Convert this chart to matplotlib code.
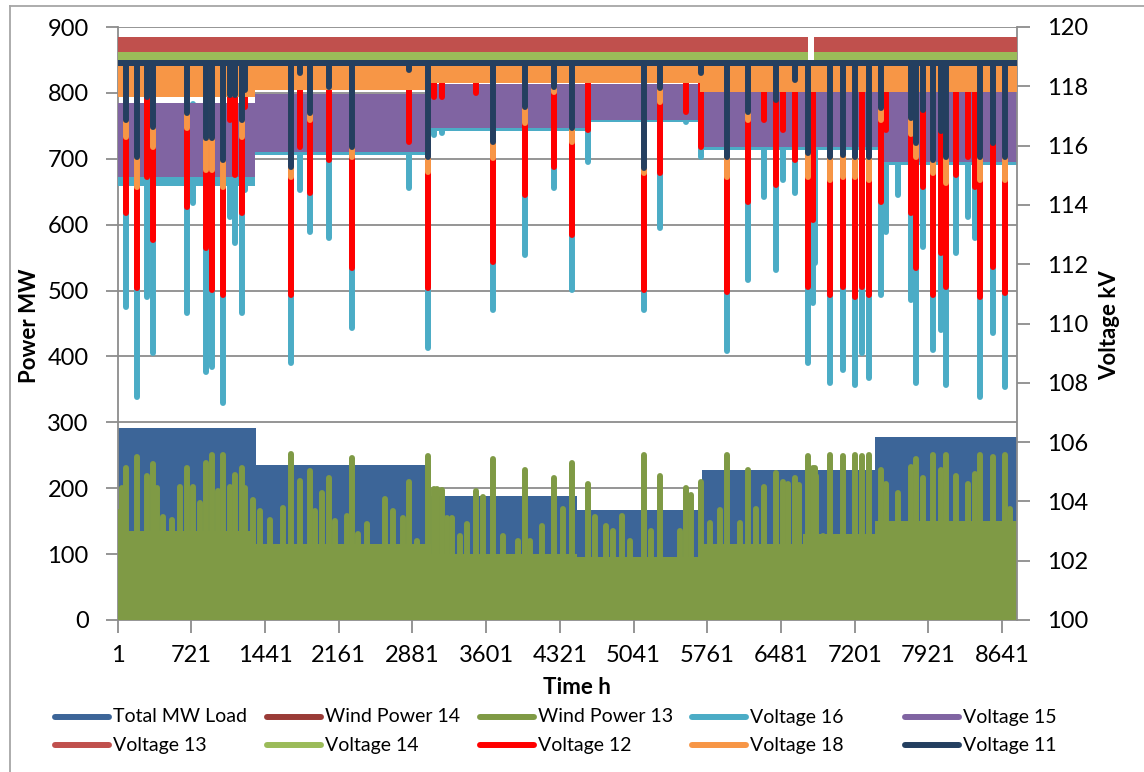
import numpy as np
import matplotlib.pyplot as plt
from matplotlib.lines import Line2D

plt.rcParams['font.family'] = ['Lato', 'DejaVu Sans']

nan = np.nan

# ---- primary axis (MW): dense hourly series shown as step envelopes ----
load_edges = [1, 1349, 3060, 4490, 5710, 7400, 8784]
load_top = [292, 236, 188, 167, 228, 277]
load_bottom = [100, 90, 80, 60, 90, 110]

wind_edges = [1, 1349, 3060, 4490, 5710, 6700, 7400, 8784]
wind13_base = [135, 115, 100, 95, 115, 130, 150]
wind14_base = [110, 95, 80, 80, 95, 110, 125]

# minor wind peaks (hour, MW)
minor_hour = [1, 40, 382, 447, 528, 609, 805, 983, 1325, 1390,
              1488, 1618, 1928, 1993, 2123, 2237, 2350, 2432, 2611, 2692,
              2790, 2921, 3116, 3214, 3263, 3344, 3409, 3571, 3767, 3913,
              4027, 4142, 4353, 4662, 4776, 4841, 4932, 5004, 5216, 5493,
              5606, 5785, 5883, 6078, 6234, 6501, 6550, 6660, 6827, 6892,
              8715, 8780]
minor_wind = [164, 200, 200, 156, 152, 202, 178, 196, 182, 165,
              152, 170, 165, 193, 150, 158, 130, 145, 184, 165,
              155, 120, 199, 155, 155, 127, 145, 186, 127, 120,
              120, 143, 169, 156, 143, 135, 158, 120, 135, 135,
              190, 147, 167, 147, 169, 206, 206, 205, 219, 127,
              168, 100]

# ---- high-wind events: wind peak (MW) and voltage minima (kV) ----
event_hour = [82, 187, 284, 343, 681, 733, 863, 919, 1026, 1098,
              1147, 1212, 1240, 1690, 1781, 1879, 2062, 2286, 2846, 3028,
              3090, 3165, 3500, 3669, 3978, 4262, 4440, 4591, 5141, 5304,
              5551, 5704, 5954, 6159, 6312, 6436, 6498, 6615, 6742, 6791,
              6811, 6958, 7085, 7202, 7270, 7339, 7463, 7511, 7622, 7755,
              7804, 7866, 7963, 8048, 8097, 8195, 8305, 8374, 8422, 8549,
              8667]
event_wind = [231, 248, 219, 237, 231, 202, 238, 250, 250, 202,
              220, 231, 200, 252, 211, 226, 216, 246, 210, 249,
              199, 197, 196, 244, 228, 216, 238, 206, 250, 219,
              200, 210, 250, 228, 202, 223, 210, 216, 249, 230,
              230, 250, 249, 251, 249, 251, 228, 206, 193, 232,
              244, 216, 250, 228, 250, 219, 207, 221, 250, 248,
              250]
v11_dip = [116.86, 115.63, 117.65, 116.64, 117.09, nan, 116.25, 116.25, 115.51, 117.71,
           117.71, 116.86, 117.88, 115.29, 118.44, 117.09, 117.99, 115.96, 118.55, 115.63,
           nan, nan, nan, 116.13, 117.31, 117.99, 116.58, nan, 115.23, 117.93,
           nan, 118.44, 115.63, 117.14, nan, 117.54, nan, 118.21, 115.74, nan,
           nan, 115.63, 115.68, 115.63, nan, 115.63, 117.26, nan, nan, 116.92,
           116.08, 117.20, 115.51, 116.50, 115.63, nan, nan, nan, 115.63, 116.08,
           115.63]
v18_dip = [116.30, 114.61, nan, 115.96, 116.58, nan, 115.18, 115.18, 114.61, nan,
           nan, 116.30, nan, 114.95, nan, 116.86, nan, 115.63, nan, 115.12,
           nan, nan, nan, 115.57, 116.75, 117.82, 116.13, nan, 115.07, 117.48,
           nan, nan, 114.95, 116.86, nan, nan, nan, nan, 114.95, nan,
           nan, 114.84, 114.95, 114.95, nan, 114.84, 116.86, nan, nan, 116.40,
           115.60, nan, 115.07, nan, 114.73, nan, nan, nan, 114.84, nan,
           114.84]
v12_dip = [113.72, 111.19, 114.95, 112.82, 113.94, nan, 112.54, 111.13, 110.96, 116.86,
           115.00, 113.72, 117.30, 110.96, 115.96, 114.39, 115.51, 111.86, 116.13, 111.19,
           117.65, 117.65, 117.76, 112.08, 114.33, 115.29, 112.98, 116.53, 111.13, 115.07,
           117.14, 115.96, 111.07, 114.11, 116.86, 114.67, 116.53, 115.51, 111.24, 113.49,
           nan, 110.96, 111.24, 110.90, 111.24, 110.96, 114.11, 116.53, nan, 113.72,
           111.86, 114.61, 110.96, 112.38, 111.24, 115.00, 115.60, 114.60, 110.90, 111.92,
           111.02]
v16_dip = [110.57, 107.53, 110.90, 109.00, 110.34, 114.06, 108.37, 108.54, 107.31, 113.60,
           112.70, 110.34, 114.50, 108.66, 114.50, 113.10, 112.87, 109.84, 114.56, 109.16,
           116.36, 116.41, nan, 110.46, 112.31, 114.56, 111.13, 115.46, 110.46, 113.21,
           116.81, 115.63, 109.06, 111.47, 114.28, 111.80, 114.84, 114.39, 108.66, 110.68,
           112.03, 107.98, 108.43, 107.93, 109.00, 108.15, 110.96, 113.10, 114.33, 110.79,
           107.98, 112.59, 109.11, 109.78, 107.93, 112.37, 113.60, 112.87, 107.53, 109.67,
           107.87]

# ---- secondary axis (kV): envelopes of the dense voltage series ----
v_edges = [1, 1345, 3050, 4600, 5690, 7450, 8784]
v16_low = [114.65, 115.68, 116.50, 116.78, 115.85, 115.35]
v16_high = [117.40, 117.60, 118.00, 118.00, 117.85, 117.85]
v15_low = [114.95, 115.78, 116.60, 116.86, 115.95, 115.45]
v15_high = [117.45, 117.75, 118.07, 118.07, 117.90, 117.90]
v12_low = [118.00, 118.00, 118.10, 118.10, 118.00, 118.00]
v12_high = [118.60, 118.60, 118.60, 118.60, 118.60, 118.60]

v18_edges = [1, 1345, 3050, 5690, 8784]
v18_low = [117.65, 117.88, 118.11, 117.80]
v18_high = [118.68, 118.68, 118.68, 118.68]

top_edges = [1, 6745, 6800, 8784]
v13_low = [119.17, nan, 119.17]
v13_high = [119.67, nan, 119.67]
v14_low = [118.89, nan, 118.89]
v14_high = [119.17, nan, 119.17]
v11_low = [118.70, 118.70, 118.70]
v11_high = [118.88, 118.88, 118.88]

x_ticks = [1, 721, 1441, 2161, 2881, 3601, 4321, 5041, 5761, 6481, 7201, 7921, 8641]

colors = {
    'Total MW Load': '#3C6598', 'Wind Power 14': '#9A3B37', 'Wind Power 13': '#7F9A45',
    'Voltage 16': '#4BACC6', 'Voltage 15': '#8064A2', 'Voltage 13': '#C0504D',
    'Voltage 14': '#9BBB59', 'Voltage 12': '#FF0000', 'Voltage 18': '#F79646',
    'Voltage 11': '#243F60',
}
LW = 4.3
GRID = '#8C8C8C'


def band(axis, edges, low, high, color, z):
    # one flat block per segment, gaps where the value is missing
    for i in range(len(low)):
        if np.isnan(low[i]):
            continue
        axis.fill_between([edges[i], edges[i + 1]], low[i], high[i],
                          color=color, lw=0, zorder=z)


def dips(axis, top, values, color, z):
    h = np.array(event_hour, dtype=float)
    v = np.array(values, dtype=float)
    ok = ~np.isnan(v)
    axis.vlines(h[ok], v[ok], top, colors=color, linewidth=LW, capstyle='round', zorder=z)


fig = plt.figure(figsize=(11.44, 7.72), dpi=100)
ax = fig.add_axes([117.7 / 1144, 1 - 620 / 772, 899 / 1144, 593 / 772])

# primary series
band(ax, load_edges, load_bottom, load_top, colors['Total MW Load'], 2)
band(ax, wind_edges, [0] * len(wind14_base), wind14_base, colors['Wind Power 14'], 3)
band(ax, wind_edges, [0] * len(wind13_base), wind13_base, colors['Wind Power 13'], 4)
ax.vlines(minor_hour, 0, minor_wind, colors=colors['Wind Power 13'], linewidth=LW,
          capstyle='round', zorder=4)
ax.vlines(event_hour, 0, event_wind, colors=colors['Wind Power 13'], linewidth=LW,
          capstyle='round', zorder=4)

ax.set_xlim(1, 8784)
ax.set_ylim(0, 900)
ax.set_yticks(range(0, 901, 100))
ax.set_xticks(x_ticks)
ax.yaxis.grid(True, color=GRID, linewidth=1.3, zorder=0)
ax.set_axisbelow(True)

# secondary series
ax2 = ax.twinx()
band(ax2, v_edges, v16_low, v16_high, colors['Voltage 16'], 1)
dips(ax2, 117.4, v16_dip, colors['Voltage 16'], 1)
band(ax2, v_edges, v15_low, v15_high, colors['Voltage 15'], 2)
band(ax2, top_edges, v13_low, v13_high, colors['Voltage 13'], 3)
band(ax2, top_edges, v14_low, v14_high, colors['Voltage 14'], 4)
band(ax2, v_edges, v12_low, v12_high, colors['Voltage 12'], 5)
dips(ax2, 118.5, v12_dip, colors['Voltage 12'], 5)
band(ax2, v18_edges, v18_low, v18_high, colors['Voltage 18'], 6)
dips(ax2, 118.6, v18_dip, colors['Voltage 18'], 6)
band(ax2, top_edges, v11_low, v11_high, colors['Voltage 11'], 7)
dips(ax2, 118.8, v11_dip, colors['Voltage 11'], 7)
ax2.set_ylim(100, 120)
ax2.set_yticks(range(100, 121, 2))

for a in (ax, ax2):
    a.spines['top'].set_visible(False)
    for s in a.spines.values():
        s.set_color(GRID)
        s.set_linewidth(1.3)
ax.spines['right'].set_visible(False)
ax2.spines['left'].set_visible(False)
ax2.spines['bottom'].set_visible(False)

ax.tick_params(axis='y', direction='out', length=9, width=1.3, color=GRID,
               labelsize=17, pad=12)
ax.tick_params(axis='x', direction='out', length=9, width=1.3, color=GRID,
               labelsize=17, pad=9)
ax2.tick_params(axis='y', direction='out', length=9, width=1.3, color=GRID,
                labelsize=17, pad=13)

fig.text(30 / 1144, 1 - 326 / 772, 'Power MW', rotation=90, ha='center', va='center',
         fontsize=16, fontweight='bold')
fig.text(1110 / 1144, 1 - 325 / 772, 'Voltage kV', rotation=90, ha='center', va='center',
         fontsize=16, fontweight='bold')
fig.text(577 / 1144, 1 - 687 / 772, 'Time h', ha='center', va='center',
         fontsize=16, fontweight='bold')

# legend, laid out as in the original (equal-width columns, two rows)
legend_rows = [
    ['Total MW Load', 'Wind Power 14', 'Wind Power 13', 'Voltage 16', 'Voltage 15'],
    ['Voltage 13', 'Voltage 14', 'Voltage 12', 'Voltage 18', 'Voltage 11'],
]
col_x = [55, 267, 480, 692, 905]
row_y = [717, 745]
for r, names in enumerate(legend_rows):
    for c, name in enumerate(names):
        x0 = col_x[c]
        y0 = 1 - row_y[r] / 772
        fig.add_artist(Line2D([x0 / 1144, (x0 + 54) / 1144], [y0, y0], color=colors[name],
                              linewidth=LW, solid_capstyle='round'))
        fig.text((x0 + 58) / 1144, y0, name, ha='left', va='center', fontsize=14)

# chart-area border
fig.add_artist(Line2D([10 / 1144, 10 / 1144], [0, 1 - 6 / 772], color='#A6A6A6', linewidth=1.3))
fig.add_artist(Line2D([10 / 1144, 1], [1 - 6 / 772, 1 - 6 / 772], color='#A6A6A6', linewidth=1.3))

fig.savefig('out.png', dpi=100)
